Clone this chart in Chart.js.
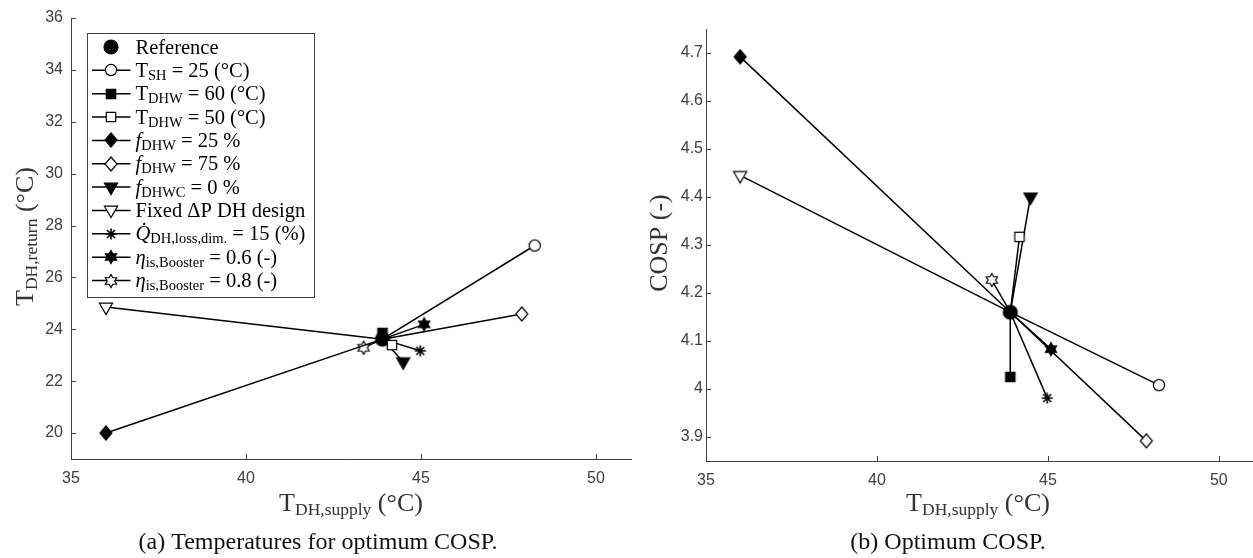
<!DOCTYPE html>
<html><head><meta charset="utf-8">
<script src="https://cdn.jsdelivr.net/npm/chart.js@4.4.1/dist/chart.umd.min.js"></script>
<style>
html,body{margin:0;padding:0;background:#fff;width:1253px;height:558px;overflow:hidden;position:relative}
#c1{position:absolute;left:0;top:0}
#c2{position:absolute;left:640px;top:0}
</style></head><body>
<canvas id="c1" width="640" height="558"></canvas>
<canvas id="c2" width="621" height="558"></canvas>
<script>
// ---------- data ----------
const seriesNames = ['T_SH = 25 (°C)','T_DHW = 60 (°C)','T_DHW = 50 (°C)','f_DHW = 25 %','f_DHW = 75 %','f_DHWC = 0 %','Fixed ΔP DH design','Q_DH,loss,dim. = 15 (%)','eta_is,Booster = 0.6 (-)','eta_is,Booster = 0.8 (-)'];
const seriesMarkers = ['circle','square','square','diamond','diamond','tridown','tridown','asterisk','hexagram','hexagram'];
const seriesFilled = [false,true,false,true,false,true,false,true,true,false];
const refSupply = 43.9;
const refReturn = 23.62;
const refCOSP = 4.16;
const supplyTemps = [48.25, 43.9, 44.17, 36.0, 47.88, 44.49, 36.0, 44.98, 45.09, 43.36];
const returnTemps = [27.23, 23.86, 23.39, 20.0, 24.59, 22.75, 24.86, 23.17, 24.19, 23.29];
const cospValues  = [4.008, 4.025, 4.317, 4.692, 3.892, 4.40, 4.445, 3.981, 4.083, 4.227];
const xTicks = [35, 40, 45, 50];
const yTicksLeft = [20, 22, 24, 26, 28, 30, 32, 34, 36];
const yTicksRight = [3.9, 4, 4.1, 4.2, 4.3, 4.4, 4.5, 4.6, 4.7];
const legendLabels = [
  [{t:'Reference'}],
  [{t:'T'},{t:'SH',sub:true},{t:' = 25 (°C)'}],
  [{t:'T'},{t:'DHW',sub:true},{t:' = 60 (°C)'}],
  [{t:'T'},{t:'DHW',sub:true},{t:' = 50 (°C)'}],
  [{t:'f',it:true},{t:'DHW',sub:true},{t:' = 25 %'}],
  [{t:'f',it:true},{t:'DHW',sub:true},{t:' = 75 %'}],
  [{t:'f',it:true},{t:'DHWC',sub:true},{t:' = 0 %'}],
  [{t:'Fixed ΔP DH design'}],
  [{t:'Q\u0307',it:true},{t:'DH,loss,dim.',sub:true},{t:' = 15 (%)'}],
  [{t:'η',it:true},{t:'is,Booster',sub:true},{t:' = 0.6 (-)'}],
  [{t:'η',it:true},{t:'is,Booster',sub:true},{t:' = 0.8 (-)'}]
];
const xTitle = [{t:'T'},{t:'DH,supply',sub:true},{t:' (°C)'}];
const yTitleLeft = [{t:'T'},{t:'DH,return',sub:true},{t:' (°C)'}];
const yTitleRight = [{t:'COSP (-)'}];
const captionLeft = '(a) Temperatures for optimum COSP.';
const captionRight = '(b) Optimum COSP.';

// ---------- styling ----------
const AX = '#404040';
const SERIF = '"Liberation Serif", "Times New Roman", serif';
const SANS = '"Liberation Sans", Arial, sans-serif';

function makeMarker(kind, filled) {
  const S = 22, c = document.createElement('canvas'); c.width = S; c.height = S;
  const g = c.getContext('2d'); const m = S / 2;
  g.lineWidth = 1.2; g.strokeStyle = '#000'; g.fillStyle = filled ? '#000' : '#fff';
  g.beginPath();
  if (kind === 'circle') g.arc(m, m, 5.6, 0, 2*Math.PI);
  else if (kind === 'bigcircle') g.arc(m, m, 7, 0, 2*Math.PI);
  else if (kind === 'square') g.rect(m-4.7, m-4.7, 9.4, 9.4);
  else if (kind === 'diamond') { g.moveTo(m, m-7); g.lineTo(m+6, m); g.lineTo(m, m+7); g.lineTo(m-6, m); g.closePath(); }
  else if (kind === 'tridown') { const r = 7.6; g.moveTo(m, m+r); g.lineTo(m+r*0.866, m-r/2); g.lineTo(m-r*0.866, m-r/2); g.closePath(); }
  else if (kind === 'hexagram') {
    const R = 6.5, ri = R/Math.sqrt(3);
    for (let k = 0; k < 12; k++) { const a = -Math.PI/2 + k*Math.PI/6; const rr = k%2 ? ri : R; const px = m + rr*Math.cos(a), py = m + rr*Math.sin(a); k ? g.lineTo(px,py) : g.moveTo(px,py); }
    g.closePath();
  } else if (kind === 'asterisk') {
    const r = 5.6; g.lineWidth = 1.6;
    for (let k = 0; k < 4; k++) { const a = k*Math.PI/4; g.moveTo(m - r*Math.cos(a), m - r*Math.sin(a)); g.lineTo(m + r*Math.cos(a), m + r*Math.sin(a)); }
    g.stroke(); return c;
  }
  g.fill(); g.stroke();
  return c;
}
const markerImgs = seriesMarkers.map((k,i) => makeMarker(k, seriesFilled[i]));
const refImg = makeMarker('bigcircle', true);

function drawRich(ctx, segs, x, y, o) {
  ctx.save(); ctx.translate(x, y); if (o.rot) ctx.rotate(-Math.PI/2);
  const fontOf = s => (s.it ? 'italic ' : '') + (s.sub ? o.sub : o.size) + 'px ' + SERIF;
  let w = 0; const ws = [];
  segs.forEach(s => { ctx.font = fontOf(s); const m = ctx.measureText(s.t).width; ws.push(m); w += m; });
  let cx = o.align === 'center' ? -w/2 : 0;
  ctx.fillStyle = o.color; ctx.textBaseline = 'alphabetic'; ctx.textAlign = 'left';
  segs.forEach((s,i) => { ctx.font = fontOf(s); ctx.fillText(s.t, cx, s.sub ? o.shift : 0); cx += ws[i]; });
  ctx.restore();
}

function decorPlugin(cfg) {
  return {
    id: 'decor',
    afterDraw(chart) {
      const ctx = chart.ctx, a = chart.chartArea, xs = chart.scales.x, ys = chart.scales.y;
      ctx.save();
      ctx.strokeStyle = AX; ctx.lineWidth = 1;
      ctx.beginPath();
      xTicks.forEach(v => { const p = Math.round(xs.getPixelForValue(v)) + 0.5; ctx.moveTo(p, a.bottom); ctx.lineTo(p, a.bottom - 5); });
      cfg.yTicks.forEach(v => { const p = Math.round(ys.getPixelForValue(v)) + 0.5; ctx.moveTo(a.left, p); ctx.lineTo(a.left + 5, p); });
      ctx.stroke();
      const cx = (a.left + a.right) / 2, cy = (a.top + a.bottom) / 2;
      drawRich(ctx, xTitle, cfg.xTitleX !== undefined ? cfg.xTitleX : cx, 511, {align:'center', size:26, sub:17.5, shift:3.5, color:'#333'});
      drawRich(ctx, cfg.yTitle, cfg.yTitleX, cy - 2, {align:'center', rot:true, size:26, sub:17.5, shift:3.5, color:'#333'});
      ctx.font = '24px ' + SERIF; ctx.fillStyle = '#111'; ctx.textAlign = 'center'; ctx.textBaseline = 'alphabetic';
      ctx.fillText(cfg.caption, cfg.captionX, 549);
      if (cfg.legend) {
        const L = a.left + 16.5, T = a.top + 15.5, W = 227, H = 264;
        ctx.fillStyle = '#fff'; ctx.fillRect(L, T, W, H);
        ctx.strokeStyle = AX; ctx.lineWidth = 1; ctx.strokeRect(L, T, W, H);
        legendLabels.forEach((segs, i) => {
          const ry = T + 13.5 + i * 23.35;
          if (i > 0) {
            ctx.strokeStyle = '#000'; ctx.lineWidth = 1.5;
            ctx.beginPath(); ctx.moveTo(L + 4.5, ry); ctx.lineTo(L + 43, ry); ctx.stroke();
          }
          const img = i === 0 ? refImg : markerImgs[i-1];
          ctx.drawImage(img, Math.round(L + 23.5) - img.width/2, Math.round(ry) - img.height/2);
          drawRich(ctx, segs, L + 48, ry + 6.5, {align:'left', size:20.5, sub:14.5, shift:3, color:'#000'});
        });
      }
      ctx.restore();
    }
  };
}

function makeChart(id, yVals, refY, cfg) {
  const datasets = seriesNames.map((name, i) => ({
    label: name,
    data: [{x: refSupply, y: refY}, {x: supplyTemps[i], y: yVals[i]}],
    showLine: true, borderColor: '#000', borderWidth: 1.5,
    pointStyle: markerImgs[i], pointRadius: [0, 6], pointHoverRadius: [0, 6]
  }));
  datasets.push({label: 'Reference', data: [{x: refSupply, y: refY}], showLine: false,
    pointStyle: refImg, pointRadius: 7});
  return new Chart(document.getElementById(id), {
    type: 'scatter',
    data: { datasets },
    options: {
      responsive: false, animation: false, devicePixelRatio: 1, events: [],
      layout: { padding: cfg.padding },
      plugins: { legend: {display: false}, tooltip: {enabled: false} },
      scales: {
        x: { type: 'linear', min: 35, max: 51,
          afterBuildTicks: s => { s.ticks = xTicks.map(v => ({value: v})); },
          afterFit: s => { s.height = cfg.xh; },
          grid: {display: false, drawTicks: false},
          border: {display: true, color: AX, width: 1},
          ticks: {font: {family: SANS, size: 16}, color: AX, padding: 10, maxRotation: 0, autoSkip: false, callback: v => String(v)} },
        y: { type: 'linear', min: cfg.ymin, max: cfg.ymax,
          afterBuildTicks: s => { s.ticks = cfg.yTicks.map(v => ({value: v})); },
          afterFit: s => { s.width = cfg.yw; },
          grid: {display: false, drawTicks: false},
          border: {display: true, color: AX, width: 1},
          ticks: {font: {family: SANS, size: 16}, color: AX, padding: cfg.ypad, autoSkip: false, callback: v => String(+(+v).toFixed(2))} }
      }
    },
    plugins: [decorPlugin(cfg)]
  });
}

function build() {
  makeChart('c1', returnTemps, refReturn, {
    padding: {top: 18, right: 9, left: 0, bottom: 0}, xh: 99, yw: 71, ymin: 19, ymax: 36, yTicks: yTicksLeft, ypad: 8,
    yTitle: yTitleLeft, yTitleX: 33, caption: captionLeft, captionX: 318, legend: true
  });
  makeChart('c2', cospValues, refCOSP, {
    padding: {top: 29, right: 0, left: 0, bottom: 0}, xh: 97, yw: 66, ymin: 3.85, ymax: 4.75, yTicks: yTicksRight, ypad: 3,
    yTitle: yTitleRight, yTitleX: 27, caption: captionRight, captionX: 308, xTitleX: 338, legend: false
  });
}
Promise.all([
  document.fonts.load('26px "Liberation Serif"'),
  document.fonts.load('italic 20px "Liberation Serif"'),
  document.fonts.load('16px "Liberation Sans"')
]).then(build, build);
</script>
</body></html>
